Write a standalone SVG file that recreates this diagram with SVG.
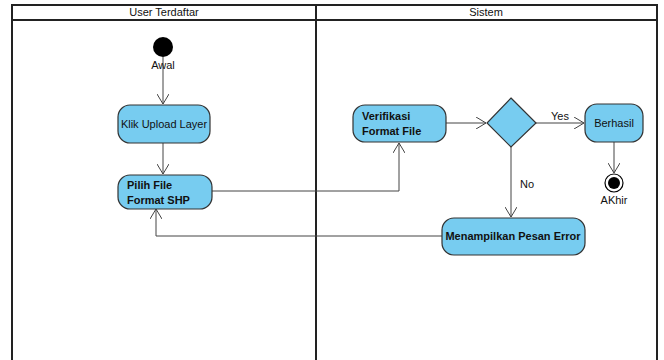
<svg xmlns="http://www.w3.org/2000/svg" width="664" height="360" viewBox="0 0 664 360">
<defs>
<style>
.lane{fill:none;stroke:#222;stroke-width:2}
.act{fill:#77CCF0;stroke:#333;stroke-width:1.2}
.t{font-family:"Liberation Sans",Arial,sans-serif;font-size:11px;fill:#111}
.b{font-weight:bold}
.c{fill:none;stroke:#444;stroke-width:1}
</style>
<marker id="ah" markerWidth="12" markerHeight="12" refX="10" refY="6" orient="auto" markerUnits="userSpaceOnUse">
<path d="M0,0 L10,6 L0,12" fill="none" stroke="#444" stroke-width="1"/>
</marker>
</defs>
<rect width="664" height="360" fill="#fff"/>
<g id="swimlanes">
<rect class="lane" x="12" y="5" width="645" height="365"/>
<line class="lane" x1="12" y1="20" x2="657" y2="20"/>
<line class="lane" x1="316" y1="5" x2="316" y2="370"/>
<text class="t" x="164" y="16" text-anchor="middle">User Terdaftar</text>
<text class="t" x="486" y="16" text-anchor="middle">Sistem</text>
</g>
<g id="connectors">
<line class="c" x1="163" y1="57" x2="163" y2="104" marker-end="url(#ah)"/>
<line class="c" x1="163" y1="143" x2="163" y2="174" marker-end="url(#ah)"/>
<polyline class="c" points="212,191 399,191 399,143" marker-end="url(#ah)"/>
<line class="c" x1="446" y1="123" x2="486" y2="123" marker-end="url(#ah)"/>
<line class="c" x1="536" y1="123" x2="584" y2="123" marker-end="url(#ah)"/>
<text class="t" x="560" y="120" text-anchor="middle">Yes</text>
<line class="c" x1="614" y1="142" x2="614" y2="173" marker-end="url(#ah)"/>
<line class="c" x1="511" y1="147" x2="511" y2="217" marker-end="url(#ah)"/>
<text class="t" x="527" y="188" text-anchor="middle">No</text>
<polyline class="c" points="442,236 156,236 156,209" marker-end="url(#ah)"/>
</g>
<g id="start">
<circle cx="163" cy="47" r="10" fill="#000"/>
<text class="t" x="163" y="69" text-anchor="middle">Awal</text>
</g>
<g id="klik-upload">
<rect class="act" x="118" y="105" width="92" height="38" rx="12"/>
<text class="t" x="164" y="128" text-anchor="middle">Klik Upload Layer</text>
</g>
<g id="pilih-file">
<rect class="act" x="118" y="175" width="94" height="34" rx="12"/>
<text class="t b" x="127" y="189">Pilih File</text>
<text class="t b" x="127" y="204">Format SHP</text>
</g>
<g id="verifikasi">
<rect class="act" x="353" y="105" width="93" height="37" rx="12"/>
<text class="t b" x="362" y="120">Verifikasi</text>
<text class="t b" x="362" y="135">Format File</text>
</g>
<g id="decision">
<polygon class="act" points="511,98 536,123 511,147 487,123"/>
</g>
<g id="berhasil">
<rect class="act" x="585" y="104" width="58" height="38" rx="12"/>
<text class="t" x="614" y="127" text-anchor="middle">Berhasil</text>
</g>
<g id="end">
<circle cx="614" cy="183" r="9" fill="#fff" stroke="#000" stroke-width="1.2"/>
<circle cx="614" cy="183" r="6" fill="#000"/>
<text class="t" x="614" y="204" text-anchor="middle">AKhir</text>
</g>
<g id="pesan-error">
<rect class="act" x="442" y="218" width="143" height="37" rx="12"/>
<text class="t b" x="513" y="240" text-anchor="middle">Menampilkan Pesan Error</text>
</g>
</svg>
